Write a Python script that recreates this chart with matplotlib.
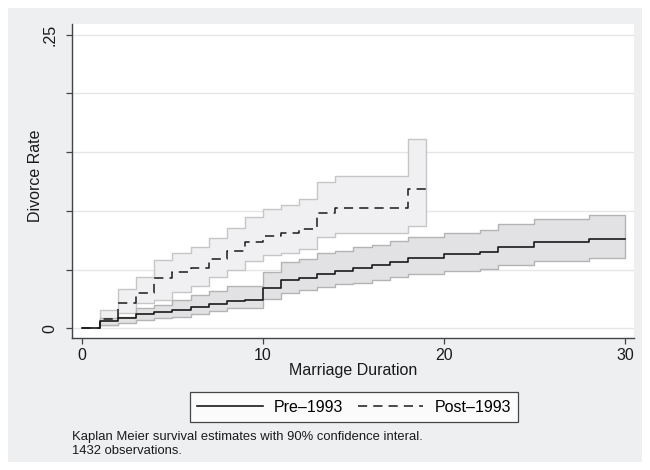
import matplotlib
matplotlib.use("Agg")
import matplotlib.pyplot as plt
from matplotlib.lines import Line2D
from matplotlib.patches import Rectangle

plt.rcParams['font.family'] = ['Liberation Sans', 'DejaVu Sans']

# Kaplan-Meier failure estimates (divorce rate) by marriage duration, with 90% CI
pre_t = [0, 1, 2, 3, 4, 5, 6, 7, 8, 9, 10, 11, 12, 13, 14, 15, 16, 17, 18,
         20, 22, 23, 25, 28, 30]
pre_est = [0, .0066, .0087, .0121, .0138, .0155, .0183, .021, .0236, .0244,
           .0342, .041, .043, .0467, .0489, .0516, .0537, .0566, .0602,
           .0634, .0653, .0693, .0738, .0761, .0761]
pre_hi = [0, .0087, .010, .0172, .020, .0245, .0285, .032, .036, .036,
          .0483, .0563, .0589, .064, .066, .069, .0713, .0744, .078,
          .0815, .0838, .0886, .0931, .0965, .0965]
pre_lo = [0, .003, .0044, .0072, .0087, .010, .012, .015, .017, .0175,
          .025, .0305, .0327, .0356, .0379, .039, .041, .0437, .0463,
          .0492, .0506, .054, .0577, .060, .060]

post_t = [0, 1, 2, 3, 4, 5, 6, 7, 8, 9, 10, 11, 12, 13, 14, 18, 19]
post_est = [0, .0083, .0218, .0306, .0426, .048, .0513, .0587, .066, .0737,
            .079, .0816, .085, .098, .1025, .119, .119]
post_hi = [0, .0157, .0333, .044, .0583, .0645, .069, .0767, .0852, .0946,
           .1013, .105, .1098, .1246, .130, .161, .161]
post_lo = [0, .003, .013, .0214, .0242, .031, .036, .044, .050, .057,
           .0623, .0643, .068, .0774, .081, .0875, .0875]

series_labels = ['Pre\u20131993', 'Post\u20131993']
x_ticks = [0, 10, 20, 30]
y_ticks = [0, .05, .10, .15, .20, .25]
y_tick_labels = ['0', '', '', '', '', '.25']

W, H = 650, 470
fig = plt.figure(figsize=(W / 100, H / 100), dpi=100)
fig.patch.set_facecolor('white')
bg = '#eeeff1'
fig.patches.append(Rectangle((8 / W, 8 / H), 634 / W, 454 / H,
                             transform=fig.transFigure, facecolor=bg,
                             edgecolor='none', zorder=-10))

ax = fig.add_axes([72 / W, 1 - 338 / H, 562 / W, 314 / H])
ax.set_facecolor('white')

# confidence bands (post behind pre)
ax.fill_between(post_t[1:], post_lo[1:], post_hi[1:], step='post',
                facecolor='#f0f0f2', edgecolor='#c6c6c6', linewidth=1.0,
                zorder=2)
ax.fill_between(pre_t[1:], pre_lo[1:], pre_hi[1:], step='post',
                facecolor='#e2e2e4', edgecolor='#b4b4b4', linewidth=1.0,
                zorder=3)

ax.step(pre_t, pre_est, where='post', color='#1a1a1a', linewidth=1.2,
        zorder=5)
ax.step(post_t, post_est, where='post', color='#1a1a1a', linewidth=1.1,
        dashes=(6, 4), zorder=5)

ax.set_xlim(-0.55, 30.5)
ax.set_ylim(-0.0081, 0.259)

for y in y_ticks:
    ax.axhline(y, color='#e6e6e6', linewidth=1.0, zorder=1)

ax.set_xticks(x_ticks)
ax.set_xticklabels([str(v) for v in x_ticks], fontsize=11.5)
ax.set_yticks(y_ticks)
ax.set_yticklabels(y_tick_labels, fontsize=11.5, rotation=90, va='center')

for s in ['top', 'right']:
    ax.spines[s].set_visible(False)
for s in ['left', 'bottom']:
    ax.spines[s].set_color('#444444')
    ax.spines[s].set_linewidth(1.0)
ax.tick_params(axis='both', direction='out', length=4.5, width=0.9,
               color='#444444', labelcolor='#1a1a1a')
ax.tick_params(axis='x', pad=3)
ax.tick_params(axis='y', pad=6)

fig.text(353 / W, 1 - 370 / H, 'Marriage Duration', ha='center', va='center',
         fontsize=11.5, color='#1a1a1a')
fig.text(35 / W, 1 - 176 / H, 'Divorce Rate', ha='center', va='center',
         rotation=90, fontsize=11.5, color='#1a1a1a')

handles = [Line2D([], [], color='#1a1a1a', linewidth=1.2),
           Line2D([], [], color='#1a1a1a', linewidth=1.1, dashes=(6, 4))]
leg = fig.legend(handles, series_labels, ncol=2, loc='center',
                 bbox_to_anchor=(354 / W, 1 - 407 / H), fontsize=11.5,
                 frameon=True, fancybox=False, handlelength=4.1,
                 handletextpad=0.7, columnspacing=0.9, borderpad=0.45)
leg.get_frame().set_edgecolor('#1a1a1a')
leg.get_frame().set_linewidth(0.9)
leg.get_frame().set_facecolor('white')

fig.text(72 / W, 1 - 437 / H,
         'Kaplan Meier survival estimates with 90% confidence interal.',
         ha='left', va='center', fontsize=9.4, color='#1a1a1a')
fig.text(72 / W, 1 - 451 / H, '1432 observations.', ha='left', va='center',
         fontsize=9.4, color='#1a1a1a')

fig.savefig('out.png', dpi=100)
